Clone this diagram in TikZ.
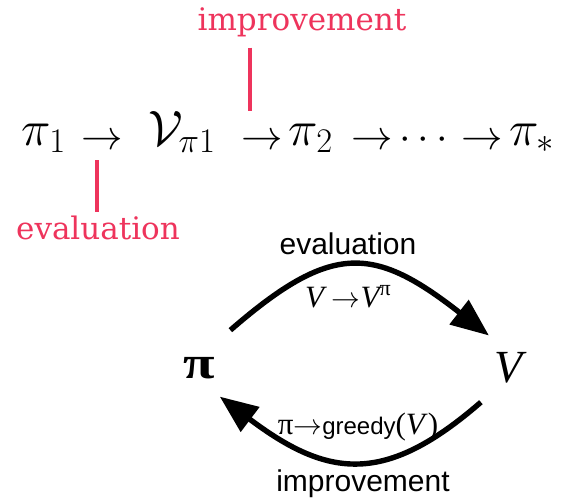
\documentclass[tikz,border=0pt]{standalone}
\usepackage{amsmath,amssymb}
\usepackage{graphicx}
\usepackage{fontspec}
\newfontfamily\timesf{Liberation Serif}
\newfontfamily\helvf{Liberation Sans}
\newfontfamily\slabf{DejaVu Serif}
\usetikzlibrary{arrows.meta,positioning}
\definecolor{hotpink}{RGB}{238,52,92}

\begin{document}
\begin{tikzpicture}[x=0.5pt, y=-0.5pt, every node/.style={inner sep=2pt},
	chainitem/.style={anchor=base, font=\fontsize{27}{30}\selectfont},
	chainarrow/.style={anchor=base, font=\fontsize{21}{24}\selectfont},
	redlab/.style={text=hotpink, font=\slabf\fontsize{15.5}{18}\selectfont},
	redline/.style={draw=hotpink, line width=2pt},
	sanslab/.style={font=\helvf\fontsize{15}{17}\selectfont},
	mathlab/.style={anchor=base, font=\timesf\fontsize{15.5}{17}\selectfont},
	bigsym/.style={circle, minimum size=35pt, font=\timesf\fontsize{23}{26}\selectfont},
	cyc/.style={line width=2.7pt, -{Triangle[length=19pt, width=15pt]}}]
	\useasboundingbox (0,0) rectangle (562,498);
	% policy iteration chain
	\foreach \name/\x/\txt in {p1/44/{\pi_1}, v1/182/{\mathcal{V}_{\pi 1}}, p2/311/{\pi_2}, ps/532/{\pi_*}} {
		\node[chainitem] (\name) at (\x,145) {$\txt$};
	}
	\foreach \name/\x/\txt in {a1/102/{\to}, a2/262/{\to}, a3/372/{\to}, a4/482/{\to}} {
		\node[chainarrow] (\name) at (\x,149) {$\txt$};
	}
	\node[chainarrow, font=\fontsize{20}{22}\selectfont] (dots) at (427,149) {$\cdots$};
	\node[redlab] (imp) at (302,22) {improvement};
	\node[redlab] (ev) at (98,228) {evaluation};
	\draw[redline, shorten <=3.3pt, shorten >=9pt] ([xshift=-6pt]a2.north |- imp.south) -- ([xshift=-6pt]a2.north);
	\draw[redline, shorten <=3.5pt] ([xshift=-2.5pt]a1.south) -- ([xshift=-2.5pt]a1.south |- ev.north);

	% evaluation / improvement cycle
	\node[bigsym] (pi) at (199,368) {\scalebox{1.25}[1]{\bfseries π}};
	\node[bigsym] (V) at (509,368) {\itshape V};
	\node[sanslab] (evl) at (348,244) {evaluation};
	\node[sanslab] (impl) at (363,484) {improvement};
	\node[mathlab] (vv) at (348,307) {\itshape V \upshape$\to$\itshape V\raisebox{0.8ex}{\upshape\fontsize{11}{11}\selectfont π}};
	\node[mathlab] (greedy) at (358,434) {π$\to${\helvf\fontsize{12}{14}\selectfont greedy}(\textit{V})};
	\draw[cyc, shorten <=7pt, shorten >=1.5pt] (pi.54) to[out=41, in=142, looseness=1.4] (V.120);
	\draw[cyc, shorten <=4.5pt] (V.233) to[out=221, in=323, looseness=1.3] (pi.306);
\end{tikzpicture}
\end{document}
